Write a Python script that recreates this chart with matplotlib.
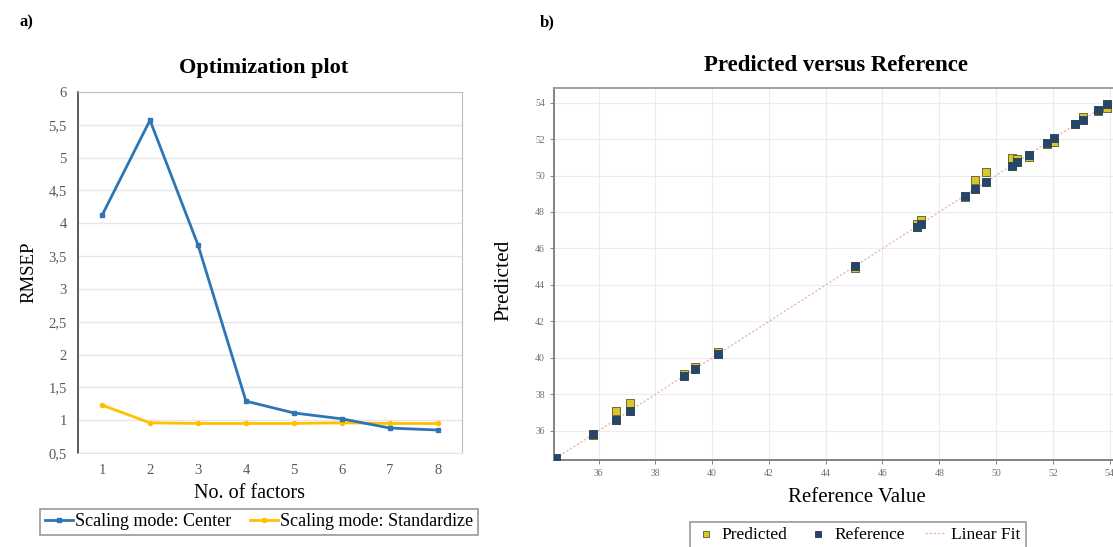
import matplotlib
matplotlib.use("Agg")
import matplotlib.pyplot as plt
from matplotlib.ticker import FuncFormatter

plt.rcParams['font.family'] = ['Liberation Serif', 'DejaVu Serif']

# ---- data: panel a ----
factors = [1, 2, 3, 4, 5, 6, 7, 8]
rmsep_center = [4.12, 5.57, 3.67, 1.29, 1.11, 1.02, 0.88, 0.85]
rmsep_standardize = [1.23, 0.96, 0.95, 0.95, 0.95, 0.96, 0.95, 0.95]
a_yticks = [0.5, 1, 1.5, 2, 2.5, 3, 3.5, 4, 4.5, 5, 5.5, 6]

# ---- data: panel b ----
reference = [34.5, 35.8, 36.6, 37.1, 39.0, 39.4, 40.2, 45.05, 47.2, 47.35,
             48.9, 49.25, 49.65, 50.55, 50.75, 51.15, 51.8, 52.05, 52.8, 53.05,
             53.6, 53.9]
predicted = [34.35, 35.75, 37.1, 37.5, 39.1, 39.5, 40.3, 44.95, 47.35, 47.55,
             48.8, 49.75, 50.2, 50.95, 50.9, 51.0, 51.75, 51.85, 52.85, 53.2,
             53.55, 53.7]
b_ticks = [36, 38, 40, 42, 44, 46, 48, 50, 52, 54]
fit_x = [34.5, 54.0]

W, H = 1113, 547
fig = plt.figure(figsize=(W / 100, H / 100), dpi=100)

# ================= panel a =================
a_l, a_r, a_t, a_b = 78, 462, 92, 453
axa = fig.add_axes([a_l / W, 1 - a_b / H, (a_r - a_l) / W, (a_b - a_t) / H])
axa.plot(factors, rmsep_center, color='#2E75B6', lw=2, marker='s', ms=3.5,
         label='Scaling mode: Center', zorder=3)
axa.plot(factors, rmsep_standardize, color='#FFC000', lw=2, marker='o', ms=3,
         label='Scaling mode: Standardize', zorder=2)
axa.set_xlim(0.5, 8.5)
axa.set_ylim(0.5, 6)
axa.set_yticks(a_yticks)
axa.set_xticks(factors)
axa.yaxis.set_major_formatter(FuncFormatter(lambda v, p: f"{v:g}".replace('.', ',')))
axa.grid(axis='y', color='#e6e6e6', lw=1)
axa.set_axisbelow(True)
axa.tick_params(length=0, labelsize=10.5, colors='#595959', pad=8)
axa.spines['left'].set_color('#404040')
axa.spines['left'].set_linewidth(1.2)
axa.spines['top'].set_color('#bfbfbf')
axa.spines['right'].set_color('#bfbfbf')
axa.spines['bottom'].set_color('#e6e6e6')
axa.set_ylabel('RMSEP', fontsize=13.5, labelpad=8)
axa.set_xlabel('No. of factors', fontsize=14.5)
axa.xaxis.label.set_va('center')
axa.xaxis.set_label_coords((250 - a_l) / (a_r - a_l), (a_b - 493) / (a_b - a_t))
axa.set_title('Optimization plot', fontsize=16, fontweight='bold', pad=14,
              x=(264 - a_l) / (a_r - a_l))
leg = axa.legend(loc='center', bbox_to_anchor=(259 / W, 1 - 522 / H),
                 bbox_transform=fig.transFigure, ncol=2,
                 frameon=True, fancybox=False, fontsize=13, handlelength=1.6,
                 handletextpad=0.1, columnspacing=1.0, borderpad=0.25)
leg.get_frame().set_edgecolor('#7f7f7f')
leg.get_frame().set_linewidth(1.2)

# ================= panel b =================
b_l, b_t, b_b = 554, 88, 460
axb = fig.add_axes([b_l / W, 1 - b_b / H, (W - b_l) / W + 0.002, (b_b - b_t) / H])
axb.plot(fit_x, fit_x, color='#e8b4b4', lw=1, ls=(0, (1.5, 1.5)),
         label='Linear Fit', zorder=1)
axb.scatter(reference, predicted, marker='s', s=32, color='#dcc42a',
            edgecolors='#6b6b3a', linewidths=0.7, label='Predicted', zorder=2)
axb.scatter(reference, reference, marker='s', s=32, color='#24466b',
            edgecolors='#34485c', linewidths=0.7, label='Reference', zorder=3)
axb.set_xlim(34.43, 54.2)
axb.set_ylim(34.4, 54.8)
axb.set_xticks(b_ticks)
axb.set_yticks(b_ticks)
axb.grid(True, color='#ececec', lw=0.8)
axb.set_axisbelow(True)
axb.tick_params(labelsize=7, colors='#707070', length=3, width=0.6)
for s in ['left', 'bottom']:
    axb.spines[s].set_color('#7a7a7a')
    axb.spines[s].set_linewidth(1.3)
axb.spines['top'].set_color('#9a9a9a')
axb.spines['top'].set_linewidth(1.3)
axb.spines['right'].set_visible(False)
axb.set_xlabel('Reference Value', fontsize=15)
axb.xaxis.label.set_va('center')
axb.xaxis.set_label_coords((856 - b_l) / (W - b_l), (b_b - 498) / (b_b - b_t))
axb.set_ylabel('Predicted', fontsize=15.5)
axb.yaxis.label.set_va('center')
axb.yaxis.label.set_ha('center')
axb.yaxis.set_label_coords((504 - b_l) / (W - b_l), (b_b - 280) / (b_b - b_t))
axb.set_title('Predicted versus Reference', fontsize=16.5, fontweight='bold', pad=12,
              x=(835 - b_l) / (W - b_l))
h, l = axb.get_legend_handles_labels()
order = [l.index('Predicted'), l.index('Reference'), l.index('Linear Fit')]
legb = axb.legend([h[i] for i in order], [l[i] for i in order],
                  loc='upper center', bbox_to_anchor=(858 / W, 1 - 513 / H),
                  bbox_transform=fig.transFigure,
                  ncol=3, frameon=True, fancybox=False, fontsize=12.5,
                  markerscale=0.8, handlelength=1.2, handletextpad=0.3,
                  columnspacing=1.2, borderpad=0.3)
legb.get_frame().set_edgecolor('#7f7f7f')
legb.get_frame().set_linewidth(1.2)

fig.text(20 / W, 1 - 22 / H, 'a)', fontsize=12, fontweight='bold', va='center')
fig.text(540 / W, 1 - 22 / H, 'b)', fontsize=12, fontweight='bold', va='center')

fig.savefig('out.png', dpi=100)
